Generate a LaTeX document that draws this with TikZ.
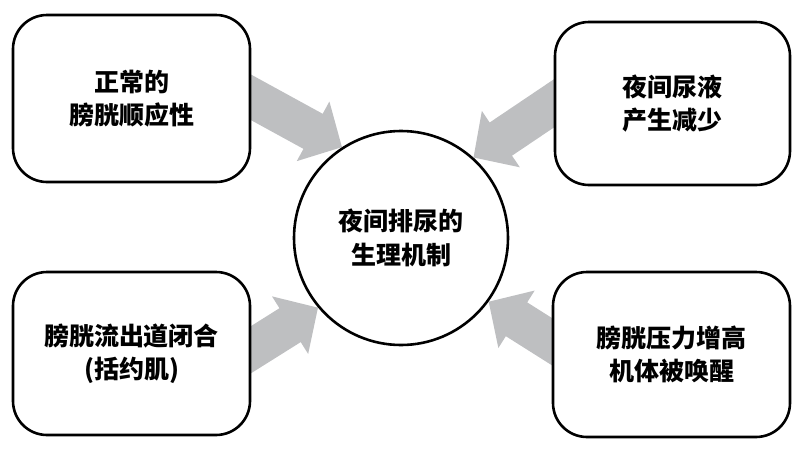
\documentclass[tikz,border=0pt]{standalone}
\usepackage{fontspec}
\newfontfamily\cjk{Noto Sans CJK SC}
\usetikzlibrary{arrows.meta,backgrounds}
\definecolor{arrowgray}{RGB}{190,191,193}
\begin{document}
\begin{tikzpicture}[x=1pt,y=-1pt,
    box/.style={draw,line width=2.6pt,fill=white,rounded corners=34pt,align=center,
        font=\cjk\bfseries\fontsize{25}{33}\selectfont,inner sep=0pt},
    hub/.style={draw,circle,line width=2.6pt,fill=white,minimum size=214pt,align=center,
        font=\cjk\bfseries\fontsize{25}{34}\selectfont,inner sep=0pt},
    bigarrow/.style={draw=arrowgray,line width=40pt,shorten <=-20pt,
        -{Triangle[length=33pt,width=66pt,fill=arrowgray]}}]
    \useasboundingbox (0,0) rectangle (809,453);
    \node[hub] (mech) at (401,238) {夜间排尿的\\生理机制};
    \node[box,minimum width=237pt,minimum height=167pt] (compl) at (131.5,98.5) {正常的\\膀胱顺应性};
    \node[box,minimum width=235pt,minimum height=163pt] (urine) at (672.5,103.5) {夜间尿液\\产生减少};
    \node[box,minimum width=237pt,minimum height=163pt] (outlet) at (131.5,353.5) {膀胱流出道闭合\\(括约肌)};
    \node[box,minimum width=237pt,minimum height=165pt] (wake) at (671.5,354.5) {膀胱压力增高\\机体被唤醒};
    \begin{scope}[on background layer]
        \draw[bigarrow] ([yshift=1pt]compl.east) -- (mech.123);
        \draw[bigarrow] (urine.west) -- (mech.48);
        \draw[bigarrow] ([yshift=4pt]outlet.east) -- (mech.220);
        \draw[bigarrow] ([yshift=13pt]wake.west) -- (mech.-36);
    \end{scope}
\end{tikzpicture}
\end{document}
